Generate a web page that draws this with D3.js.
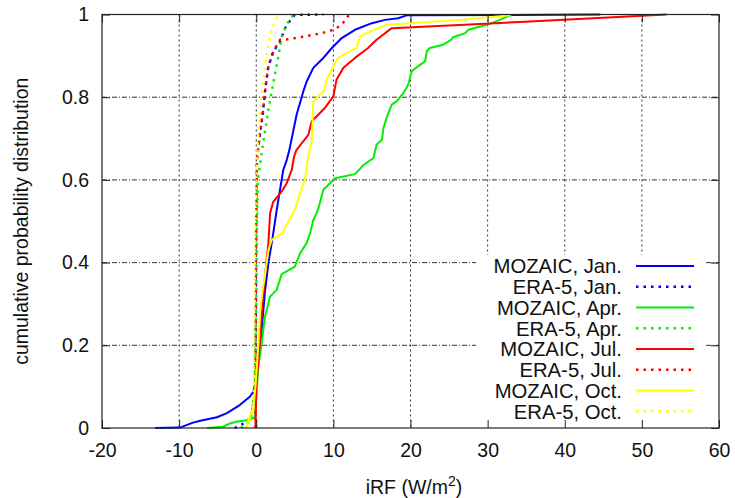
<!DOCTYPE html>
<html><head><meta charset="utf-8">
<script src="https://cdn.jsdelivr.net/npm/d3@7"></script>
<style>body{margin:0;background:#fff}svg{display:block}text{font-family:"Liberation Sans",Arial,sans-serif;fill:#111}</style>
</head><body><svg id="c" width="735" height="498"></svg>
<script>
const xTicks = [-20,-10,0,10,20,30,40,50,60];
const xTickLabels = ["-20","-10","0","10","20","30","40","50","60"];
const yTicks = [0,0.2,0.4,0.6,0.8,1];
const yTickLabels = ["0","0.2","0.4","0.6","0.8","1"];
const legendLabels = ["MOZAIC, Jan.","ERA-5, Jan.","MOZAIC, Apr.","ERA-5, Apr.","MOZAIC, Jul.","ERA-5, Jul.","MOZAIC, Oct.","ERA-5, Oct."];
const seriesColors = ["#0000ff","#0000ff","#00f000","#00f000","#ff0000","#ff0000","#ffff00","#ffff00"];
const seriesDotted = [false,true,false,true,false,true,false,true];

const mozaicJan = [[-13.1,0],[-9.9,0.001],[-8.2,0.013],[-7.1,0.018],[-5.1,0.026],[-3.8,0.036],[-2.1,0.056],[-0.8,0.076],[-0.38,0.088],[-0.16,0.104],[0.49,0.197],[0.9,0.28],[1.13,0.33],[1.57,0.398],[2.2,0.47],[2.65,0.527],[3.08,0.576],[3.5,0.624],[3.95,0.648],[4.29,0.672],[5.24,0.758],[6.1,0.814],[6.54,0.838],[7.4,0.871],[8.7,0.895],[9.8,0.919],[11.08,0.943],[12.8,0.963],[15.0,0.979],[16.7,0.987],[18.4,0.991],[19.5,0.998],[44.6,1.0]];
const era5Jan = [[-2.8,0],[-2.1,0.007],[-1.5,0.012],[-1.0,0.02],[-0.6,0.036],[-0.3,0.07],[-0.15,0.1],[-0.1,0.3],[-0.02,0.5],[0.08,0.648],[0.49,0.713],[0.9,0.769],[1.2,0.825],[1.57,0.874],[2.2,0.91],[3.08,0.934],[3.73,0.967],[4.6,0.991],[5.0,0.999],[8.7,1.0]];
const mozaicApr = [[-6.4,0],[-4.3,0.003],[-3.4,0.011],[-2.6,0.015],[-1.24,0.019],[-0.6,0.022],[-0.16,0.027],[0.27,0.148],[0.7,0.205],[1.13,0.269],[1.8,0.318],[2.65,0.334],[3.3,0.372],[5.0,0.39],[5.67,0.422],[6.54,0.447],[6.97,0.471],[7.4,0.503],[7.8,0.519],[8.05,0.531],[8.7,0.576],[10.2,0.604],[12.8,0.614],[13.9,0.636],[15.2,0.653],[15.6,0.685],[16.3,0.697],[16.5,0.726],[16.9,0.75],[17.56,0.782],[18.2,0.79],[19.07,0.81],[19.7,0.83],[20.15,0.863],[21.0,0.875],[21.9,0.887],[22.1,0.911],[22.5,0.919],[24.25,0.927],[25.3,0.939],[25.5,0.945],[27.1,0.955],[27.5,0.963],[29.9,0.975],[31.6,0.987],[32.5,0.995],[33.1,0.999]];
const era5Apr = [[-2.0,0],[-1.2,0.01],[-0.6,0.03],[-0.2,0.1],[0.0,0.3],[0.1,0.5],[0.2,0.6],[0.9,0.69],[1.57,0.769],[2.2,0.834],[2.86,0.898],[3.3,0.946],[3.95,0.976],[4.8,0.999]];
const mozaicJul = [[-0.1,0],[0,0.1],[0.45,0.2],[0.8,0.3],[1.2,0.38],[1.57,0.447],[1.8,0.52],[2.2,0.547],[3.3,0.572],[3.95,0.592],[4.6,0.624],[4.9,0.656],[5.2,0.672],[6.75,0.709],[7.2,0.742],[8.9,0.774],[10.0,0.802],[10.4,0.842],[11.3,0.871],[12.8,0.895],[14.5,0.919],[15.6,0.939],[17.56,0.967],[29,0.977],[34.2,0.982],[53.2,1.0]];
const era5Jul = [[-0.1,0],[-0.1,0.1],[-0.05,0.3],[0.0,0.5],[0.1,0.65],[0.49,0.713],[0.9,0.769],[1.2,0.825],[1.57,0.874],[2.2,0.91],[3.08,0.939],[4.16,0.940],[6.3,0.947],[8.5,0.955],[10.0,0.963],[11.08,0.975],[11.9,0.996],[12.1,1.0]];
const mozaicOct = [[-1.5,0],[-1.24,0.003],[-1.03,0.019],[-0.38,0.048],[-0.1,0.1],[0.27,0.2],[0.5,0.28],[0.8,0.33],[1.13,0.37],[1.57,0.43],[2.0,0.455],[3.3,0.47],[4.16,0.499],[5.0,0.527],[5.67,0.568],[6.3,0.6],[6.6,0.64],[6.9,0.672],[7.2,0.69],[7.4,0.79],[7.83,0.798],[8.9,0.818],[9.1,0.842],[10.0,0.875],[10.6,0.895],[13.0,0.919],[13.45,0.947],[15.2,0.963],[16.9,0.975],[26.4,0.987],[32.9,0.998]];
const era5Oct = [[-1.3,0],[-0.9,0.01],[-0.5,0.03],[-0.3,0.1],[-0.2,0.3],[-0.1,0.5],[0.1,0.65],[0.49,0.77],[0.9,0.834],[1.35,0.906],[2.0,0.962],[2.43,0.984],[2.86,0.999]];

const seriesData = [mozaicJan, era5Jan, mozaicApr, era5Apr, mozaicJul, era5Jul, mozaicOct, era5Oct];

const W=735,H=498, L=102, R=719, T=14.5, B=428;
const svg = d3.select("#c");
const x = d3.scaleLinear().domain([-20,60]).range([L,R]);
const y = d3.scaleLinear().domain([0,1]).range([B,T]);

const lgX0=476, lgX1=706, lgY0=255;
const gridColor="#333";

const g = svg.append("g");
xTicks.slice(1,-1).forEach(v=>{
  const px = x(v);
  const yEnd = (px>lgX0 && px<lgX1) ? lgY0 : B;
  g.append("line").attr("x1",px).attr("x2",px).attr("y1",T).attr("y2",yEnd)
   .attr("stroke",gridColor).attr("stroke-width",1).attr("stroke-dasharray","2,3");
});
yTicks.slice(1,-1).forEach(v=>{
  const py = y(v);
  const segs = py>lgY0 ? [[L,lgX0],[lgX1,R]] : [[L,R]];
  segs.forEach(s=>{
    g.append("line").attr("x1",s[0]).attr("x2",s[1]).attr("y1",py).attr("y2",py)
     .attr("stroke",gridColor).attr("stroke-width",1).attr("stroke-dasharray","5,2,1,2");
  });
});

const line = d3.line().x(d=>x(d[0])).y(d=>y(d[1]));
seriesData.forEach((data,i)=>{
  svg.append("path").datum(data).attr("d",line)
    .attr("fill","none").attr("stroke",seriesColors[i])
    .attr("stroke-width",seriesDotted[i]?2.4:2)
    .attr("stroke-linejoin","round")
    .attr("stroke-dasharray",seriesDotted[i]?"2.5,5":null);
});

const tickLen=8;
const xAxisB = d3.axisBottom(x).tickValues(xTicks).tickSize(-tickLen).tickPadding(15).tickFormat((d,i)=>xTickLabels[i]);
const xAxisT = d3.axisTop(x).tickValues(xTicks).tickSize(-tickLen).tickFormat("");
const yAxisL = d3.axisLeft(y).tickValues(yTicks).tickSize(-tickLen).tickPadding(13).tickFormat((d,i)=>yTickLabels[i]);
const yAxisR = d3.axisRight(y).tickValues(yTicks).tickSize(-tickLen).tickFormat("");

function style(sel){
  sel.select(".domain").remove();
  sel.selectAll(".tick line").attr("stroke","#222").attr("stroke-width",1);
  sel.selectAll(".tick text").attr("font-size",19.5).attr("fill","#111").attr("font-family","Liberation Sans, Arial, sans-serif");
}

const lg = svg.append("g");
lg.append("rect").attr("x",lgX0).attr("y",lgY0).attr("width",lgX1-lgX0).attr("height",B-lgY0).attr("fill","#fff");
legendLabels.forEach((lab,i)=>{
  const ly = 266 + i*20.75;
  lg.append("text").attr("x",622).attr("y",ly).attr("dy","0.36em").attr("text-anchor","end")
    .attr("font-size",20.3).text(lab);
  lg.append("line").attr("x1",636).attr("x2",694).attr("y1",ly).attr("y2",ly)
    .attr("stroke",seriesColors[i]).attr("stroke-width",seriesDotted[i]?2.4:2)
    .attr("stroke-dasharray",seriesDotted[i]?"2.5,5":null);
});

svg.append("g").attr("transform",`translate(0,${B})`).call(xAxisB).call(style);
svg.append("g").attr("transform",`translate(0,${T})`).call(xAxisT).call(style);
svg.append("g").attr("transform",`translate(${L},0)`).call(yAxisL).call(style);
svg.append("g").attr("transform",`translate(${R},0)`).call(yAxisR).call(style);

svg.append("rect").attr("x",L).attr("y",T).attr("width",R-L).attr("height",B-T)
  .attr("fill","none").attr("stroke","#222").attr("stroke-width",1.2);

const xt = svg.append("text").attr("x",414).attr("y",494).attr("text-anchor","middle").attr("font-size",19.5);
xt.append("tspan").text("iRF (W/m");
xt.append("tspan").attr("font-size",14).attr("dy",-8).text("2");
xt.append("tspan").attr("dy",8).text(")");

svg.append("text").attr("transform",`translate(28,${(T+B)/2}) rotate(-90)`).attr("text-anchor","middle")
  .attr("font-size",19.5).text("cumulative probability distribution");
</script></body></html>
